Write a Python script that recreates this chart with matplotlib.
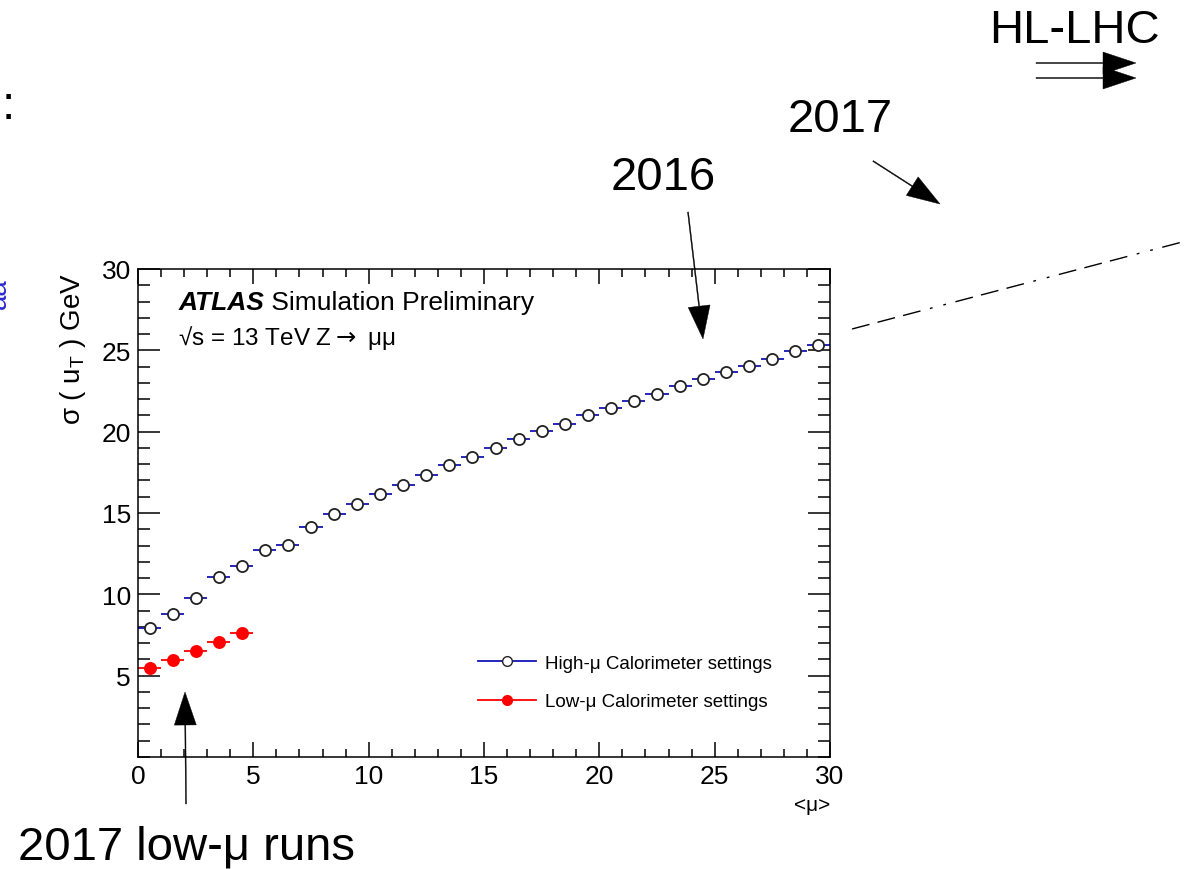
import matplotlib
matplotlib.use('Agg')
import matplotlib.pyplot as plt
from matplotlib.lines import Line2D
from matplotlib.ticker import MultipleLocator

plt.rcParams['font.family'] = ['Liberation Sans', 'DejaVu Sans']
plt.rcParams['mathtext.fontset'] = 'custom'
plt.rcParams['mathtext.rm'] = 'Liberation Sans'
plt.rcParams['mathtext.it'] = 'Liberation Sans:italic'

# <mu> bins (centres) and resolution of u_T in GeV
mu_high = [0.5, 1.5, 2.5, 3.5, 4.5, 5.5, 6.5, 7.5, 8.5, 9.5,
           10.5, 11.5, 12.5, 13.5, 14.5, 15.5, 16.5, 17.5, 18.5, 19.5,
           20.5, 21.5, 22.5, 23.5, 24.5, 25.5, 26.5, 27.5, 28.5, 29.5]
sigma_high = [7.94, 8.78, 9.77, 11.04, 11.72, 12.74, 13.03, 14.12, 14.92, 15.55,
              16.16, 16.74, 17.33, 17.95, 18.46, 18.99, 19.53, 20.02, 20.49, 21.0,
              21.45, 21.9, 22.33, 22.82, 23.25, 23.64, 24.05, 24.46, 24.97, 25.3]
mu_low = [0.5, 1.5, 2.5, 3.5, 4.5]
sigma_low = [5.46, 5.99, 6.54, 7.08, 7.62]
bin_half = 0.5

blue = '#1414b4'
red = '#ff0000'

W, H = 1186, 870
fig = plt.figure(figsize=(W / 100, H / 100), dpi=100)
ax = fig.add_axes([138 / W, 1 - 758 / H, 692 / W, 488 / H])

ax.errorbar(mu_high, sigma_high, xerr=bin_half, fmt='none', ecolor=blue, elinewidth=1.3, zorder=2)
ax.plot(mu_high, sigma_high, 'o', ms=8, mfc='white', mec='#222222', mew=1.3, zorder=3)
ax.errorbar(mu_low, sigma_low, xerr=bin_half, fmt='none', ecolor=red, elinewidth=1.3, zorder=2)
ax.plot(mu_low, sigma_low, 'o', ms=8.3, mfc=red, mec=red, zorder=3)

ax.set_xlim(0, 30)
ax.set_ylim(0, 30)
ax.set_xticks(range(0, 31, 5))
ax.set_yticks(range(5, 31, 5))
ax.xaxis.set_minor_locator(MultipleLocator(1))
ax.yaxis.set_minor_locator(MultipleLocator(1))
ax.tick_params(which='both', direction='in', top=True, right=True, width=1.1, labelsize=19, pad=5)
ax.tick_params(axis='y', which='major', length=15.5)
ax.tick_params(axis='y', which='minor', length=8.5)
ax.tick_params(axis='x', which='major', length=11)
ax.tick_params(axis='x', which='minor', length=5.8)
for s in ax.spines.values():
    s.set_linewidth(1.1)

# ATLAS label
t = ax.text(0.058, 0.918, 'ATLAS', transform=ax.transAxes, fontsize=19,
            fontweight='bold', fontstyle='italic', va='baseline')
ax.annotate(' Simulation Preliminary', xy=(1, 0), xycoords=t, fontsize=19, va='bottom')
ax.text(0.058, 0.846, r'√s = 13 TeV Z$\rightarrow$ μμ', transform=ax.transAxes,
        fontsize=17.5, va='baseline', math_fontfamily='dejavusans')

handles = [Line2D([], [], color=blue, lw=1.3, marker='o', ms=7, mfc='white', mec='#222222'),
           Line2D([], [], color=red, lw=1.3, marker='o', ms=7, mfc=red, mec=red)]
ax.legend(handles, ['High-μ Calorimeter settings', 'Low-μ Calorimeter settings'],
          loc='upper left', bbox_to_anchor=(0.491, 0.21), frameon=False, fontsize=13.5,
          handlelength=3.1, handletextpad=0.5, labelspacing=1.15, borderpad=0, borderaxespad=0)

fig.text(73 / W, 1 - 273 / H, r'σ ( u$_{\mathrm{T}}$ ) GeV', rotation=90, ha='center', va='top', fontsize=20)
fig.text(830 / W, 1 - 806 / H, '<μ>', ha='right', va='center', fontsize=15)

# slide annotations, drawn in pixel units over the whole figure
ov = fig.add_axes([0, 0, 1, 1], facecolor='none')
ov.set_xlim(0, W)
ov.set_ylim(H, 0)
ov.axis('off')

big = 34
ov.text(1074, 43, 'HL-LHC', fontsize=big, ha='center', va='baseline')
ov.text(840, 132, '2017', fontsize=big, ha='center', va='baseline')
ov.text(663, 190, '2016', fontsize=big, ha='center', va='baseline')
ov.text(187, 860, '2017 low-μ runs', fontsize=big, ha='center', va='baseline')
ov.text(8, 119, ':', fontsize=big, ha='center', va='baseline')
ov.text(12, 294, 'aa', fontsize=20, color='#2a2ad0', rotation=90, ha='right', va='center')

arrows = [(1036, 64, 1136, 64), (1036, 79, 1136, 79),
          (873, 162, 940, 205), (688, 213, 703, 340), (186, 805, 185, 693)]
for x0, y0, x1, y1 in arrows:
    ov.arrow(x0, y0, x1 - x0, y1 - y0, width=1.0, head_width=22, head_length=33,
             length_includes_head=True, color='black', lw=0.3)

ov.plot([852, 1186], [330, 242], color='black', lw=1.0,
        linestyle=(0, (13, 6, 13, 6, 13, 7, 2, 8, 2, 7)))

fig.savefig('out.png', dpi=100)
